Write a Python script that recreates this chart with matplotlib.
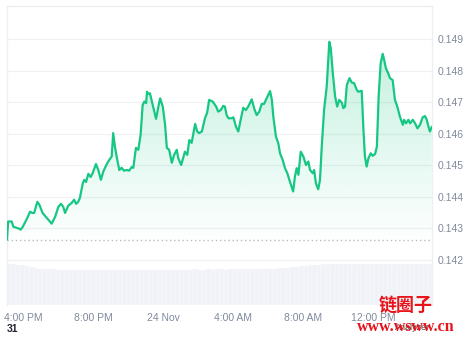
import numpy as np
import matplotlib.pyplot as plt
from matplotlib.colors import to_rgb

# Price trace: minutes after 15:05 on 23 Nov, price in USD
minutes = [0, 4, 16, 22, 33, 42, 47, 54, 68, 79, 87, 93, 104, 111, 122, 136, 145, 153, 165, 176,
           185, 193, 199, 210, 222, 230, 237, 244, 250, 260, 265, 271, 279, 287, 294, 305, 313, 322, 330, 339,
           347, 359, 364, 370, 378, 385, 393, 401, 410, 419, 428, 433, 442, 450, 458, 465, 471, 477, 480, 484,
           490, 502, 511, 519, 525, 534, 542, 548, 556, 565, 573, 582, 587, 597, 604, 610, 618, 625, 633, 645,
           652, 659, 668, 679, 686, 693, 705, 717, 724, 733, 741, 747, 753, 759, 770, 776, 785, 793, 801, 810,
           819, 827, 839, 848, 856, 865, 873, 881, 890, 902, 908, 913, 922, 930, 936, 945, 953, 961, 970, 981,
           987, 993, 999, 1007, 1016, 1025, 1033, 1039, 1048, 1053, 1059, 1067, 1073, 1079, 1087, 1096, 1105, 1110, 1117, 1125,
           1132, 1139, 1148, 1153, 1159, 1165, 1174, 1182, 1190, 1199, 1204, 1216, 1222, 1227, 1233, 1239, 1247, 1254, 1262, 1268,
           1274, 1281, 1288, 1293, 1299, 1307, 1313, 1322, 1330, 1338, 1347, 1357, 1361, 1368, 1376, 1382, 1391, 1399, 1407, 1416,
           1425, 1433, 1439, 1445, 1450, 1456]
price = [0.14265, 0.14322, 0.14322, 0.14305, 0.14302, 0.14299, 0.14296, 0.14305, 0.14330, 0.14353,
         0.14349, 0.14349, 0.14384, 0.14375, 0.14349, 0.14334, 0.14324, 0.14315, 0.14337, 0.14368,
         0.14378, 0.14368, 0.14349, 0.14372, 0.14381, 0.14391, 0.14378, 0.14384, 0.14397, 0.14444,
         0.14454, 0.14447, 0.14473, 0.14463, 0.14476, 0.14504, 0.14485, 0.14454, 0.14480, 0.14498,
         0.14512, 0.14528, 0.14602, 0.14559, 0.14517, 0.14485, 0.14492, 0.14483, 0.14485, 0.14483,
         0.14495, 0.14492, 0.14555, 0.14549, 0.14596, 0.14691, 0.14702, 0.14697, 0.14733, 0.14726,
         0.14728, 0.14682, 0.14647, 0.14686, 0.14712, 0.14686, 0.14628, 0.14555, 0.14549, 0.14508,
         0.14533, 0.14549, 0.14523, 0.14501, 0.14523, 0.14543, 0.14533, 0.14580, 0.14571, 0.14631,
         0.14607, 0.14602, 0.14607, 0.14650, 0.14666, 0.14707, 0.14702, 0.14686, 0.14670, 0.14675,
         0.14688, 0.14686, 0.14659, 0.14649, 0.14649, 0.14652, 0.14622, 0.14607, 0.14644, 0.14682,
         0.14675, 0.14686, 0.14709, 0.14678, 0.14659, 0.14670, 0.14694, 0.14694, 0.14712, 0.14735,
         0.14707, 0.14654, 0.14591, 0.14570, 0.14538, 0.14517, 0.14491, 0.14475, 0.14448, 0.14417,
         0.14464, 0.14491, 0.14470, 0.14543, 0.14528, 0.14501, 0.14512, 0.14485, 0.14475, 0.14485,
         0.14443, 0.14424, 0.14454, 0.14559, 0.14675, 0.14749, 0.14891, 0.14871, 0.14791, 0.14717,
         0.14686, 0.14707, 0.14698, 0.14681, 0.14686, 0.14754, 0.14776, 0.14762, 0.14760, 0.14739,
         0.14733, 0.14736, 0.14612, 0.14528, 0.14496, 0.14522, 0.14538, 0.14530, 0.14536, 0.14559,
         0.14717, 0.14823, 0.14853, 0.14834, 0.14807, 0.14791, 0.14776, 0.14770, 0.14707, 0.14686,
         0.14654, 0.14628, 0.14644, 0.14633, 0.14644, 0.14633, 0.14644, 0.14633, 0.14617, 0.14628,
         0.14652, 0.14656, 0.14644, 0.14622, 0.14607, 0.14621]
ref_price = 0.14264  # price 24h ago (dotted line)

# Volume bars (15 minute buckets, arbitrary units)
volume = [41.0, 40.8, 40.5, 40.0, 39.0, 38.0, 37.0, 36.5, 36.0, 35.8,
          35.6, 35.5, 35.4, 35.5, 35.3, 35.4, 35.5, 35.2, 35.3, 35.4,
          35.5, 35.3, 35.2, 35.4, 35.3, 35.5, 35.4, 35.3, 35.2, 35.4,
          35.5, 35.3, 35.4, 35.5, 35.3, 35.2, 35.4, 35.5, 35.4, 35.3,
          35.5, 35.4, 35.6, 35.5, 35.4, 35.6, 35.5, 35.7, 35.6, 35.5,
          35.7, 35.8, 35.7, 35.9, 36.0, 35.9, 36.1, 36.2, 36.3, 36.4,
          36.5, 36.8, 37.0, 37.5, 38.0, 38.5, 39.0, 39.4, 39.8, 40.2,
          40.4, 40.6, 40.8, 40.9, 41.0, 40.9, 41.0, 41.0, 40.9, 40.8,
          40.9, 41.0, 41.0, 40.9, 41.0, 41.0, 40.9, 41.0, 41.0, 40.9,
          41.0, 41.0, 40.9, 41.0, 41.0, 41.0]

tick_hours = [16, 20, 24, 28, 32, 36]
tick_labels = ['4:00 PM', '8:00 PM', '24 Nov', '4:00 AM', '8:00 AM', '12:00 PM']
price_ticks = [0.142, 0.143, 0.144, 0.145, 0.146, 0.147, 0.148, 0.149]

start_hour = 15 + 5 / 60
hours = start_hour + np.array(minutes) / 60.0
price = np.array(price)

green = '#16c784'
grid_c = '#eff1f4'
text_c = '#808a9d'

plt.rcParams['font.family'] = ['Liberation Sans', 'DejaVu Sans']

W, H = 469, 337
fig = plt.figure(figsize=(W / 100, H / 100), dpi=100)
left, right, top, bottom = 7, 432, 6, 305
x0, x1 = start_hour, start_hour + 1457 / 60

# volume axes (behind)
axv = fig.add_axes([left / W, 1 - bottom / H, (right - left) / W, (bottom - 262) / H])
bw = (x1 - x0) / len(volume)
vx = x0 + bw * (np.arange(len(volume)) + 0.5)
axv.bar(vx, volume, width=bw, color='#f0f2f7', edgecolor='#fbfcfd', linewidth=0.3)
axv.set_xlim(x0, x1)
axv.set_ylim(0, 43)
axv.axis('off')

ax = fig.add_axes([left / W, 1 - bottom / H, (right - left) / W, (bottom - top) / H])
ax.patch.set_alpha(0)
ylo, yhi = 0.142 - 45 / 31.57 * 0.001, 0.149 + 33 / 31.57 * 0.001
ax.set_xlim(x0, x1)
ax.set_ylim(ylo, yhi)

for p in price_ticks:
    ax.axhline(p, color=grid_c, lw=0.9, zorder=0)
ax.axhline(ref_price, color='#b8bdc7', lw=1, ls=(0, (1, 2)), zorder=1)

# gradient fill under the line
poly = ax.fill_between(hours, price, ylo, color='none', lw=0)
rgb = to_rgb(green)
grad = np.zeros((200, 1, 4))
grad[:, 0, :3] = rgb
alpha = np.linspace(0.30, 0.0, 200)
grad[:, 0, 3] = alpha
img = ax.imshow(grad, extent=[x0, x1, ref_price - 0.0002, yhi], aspect='auto',
                origin='upper', zorder=1)
img.set_clip_path(poly.get_paths()[0], transform=ax.transData)
ax.set_xlim(x0, x1)
ax.set_ylim(ylo, yhi)

ax.plot(hours, price, color=green, lw=1.6, zorder=3, solid_joinstyle='round')

ax.yaxis.tick_right()
ax.set_yticks(price_ticks)
ax.set_yticklabels([f'{p:.3f}' for p in price_ticks])
ax.set_xticks(tick_hours)
ax.set_xticklabels(tick_labels)
ax.tick_params(length=0, labelsize=7.5, colors=text_c)
ax.tick_params(axis='y', pad=4)
ax.tick_params(axis='x', pad=6)
for s in ['top', 'left', 'right']:
    ax.spines[s].set_color('#eceef2')
    ax.spines[s].set_linewidth(0.9)
ax.spines['bottom'].set_visible(False)

fig.text(7 / W, 1 - 329 / H, '31', fontsize=7.5, color='#222531', va='center', ha='left',
         fontweight='bold')

# watermark
fig.text(406 / W, 1 - 305 / H, '链圈子', fontsize=13, color='#e8141c', fontweight='bold',
         family=['Noto Sans CJK SC', 'DejaVu Sans'], ha='center', va='center')
fig.text(412 / W, 1 - 327 / H, 'Analyzer', fontsize=6.5, color='#444', ha='center', va='center')
fig.text(406 / W, 1 - 327 / H, 'www.wsww.cn', fontsize=11.5, color='#e8141c', fontweight='bold',
         family=['Liberation Serif', 'DejaVu Serif'], ha='center', va='center')

fig.savefig('out.png', dpi=100)
